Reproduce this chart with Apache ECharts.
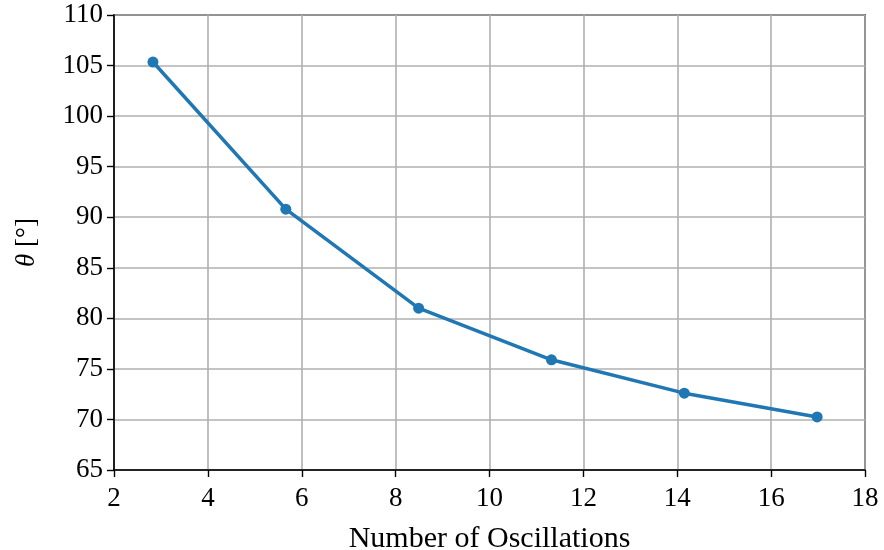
<!DOCTYPE html>
<html>
<head>
<meta charset="utf-8">
<script src="https://cdn.jsdelivr.net/npm/echarts@6/dist/echarts.min.js"></script>
<style>
  html, body { margin: 0; padding: 0; background: #fff; }
  #chart { width: 884px; height: 550px; }
</style>
</head>
<body>
<div id="chart"></div>
<script>
// Oscillation count vs. angle
const oscillations = [2.83, 5.66, 8.49, 11.32, 14.15, 16.98];
const thetaDeg = [105.35, 90.8, 81.0, 75.9, 72.6, 70.25];

const xTicks = { min: 2, max: 18, interval: 2 };
const yTicks = { min: 65, max: 110, interval: 5 };

const serif = '"Liberation Serif", "DejaVu Serif", serif';

const chart = echarts.init(document.getElementById('chart'), null, { renderer: 'canvas' });

chart.setOption({
  animation: false,
  backgroundColor: '#ffffff',
  grid: {
    left: 114, right: 19, top: 15, bottom: 80,
    outerBoundsMode: 'none',
    containLabel: false,
    show: true, borderColor: '#000', borderWidth: 1.6, backgroundColor: 'transparent'
  },
  xAxis: {
    type: 'value',
    min: xTicks.min, max: xTicks.max, interval: xTicks.interval,
    name: 'Number of Oscillations',
    nameLocation: 'middle',
    nameGap: 54,
    nameTextStyle: { fontFamily: serif, fontSize: 30, color: '#000' },
    axisLine: { show: true, lineStyle: { color: '#000', width: 1.6 } },
    axisTick: { show: true, inside: false, length: 7, lineStyle: { color: '#000', width: 1.4 } },
    axisLabel: { fontFamily: serif, fontSize: 27, color: '#000', margin: 15 },
    splitLine: { show: true, lineStyle: { color: '#b0b0b0', width: 1.6 } }
  },
  yAxis: {
    type: 'value',
    min: yTicks.min, max: yTicks.max, interval: yTicks.interval,
    name: '{it|θ} [°]',
    nameLocation: 'middle',
    nameGap: 74,
    nameRotate: 90,
    nameTextStyle: {
      fontFamily: serif, fontSize: 27, color: '#000',
      rich: { it: { fontFamily: serif, fontSize: 27, fontStyle: 'italic', color: '#000' } }
    },
    axisLine: { show: true, lineStyle: { color: '#000', width: 1.6 } },
    axisTick: { show: true, inside: false, length: 7, lineStyle: { color: '#000', width: 1.4 } },
    axisLabel: { fontFamily: serif, fontSize: 27, color: '#000', margin: 11 },
    splitLine: { show: true, lineStyle: { color: '#b0b0b0', width: 1.6 } }
  },
  series: [{
    type: 'line',
    data: oscillations.map((x, i) => [x, thetaDeg[i]]),
    symbol: 'circle',
    symbolSize: 11,
    showSymbol: true,
    itemStyle: { color: '#1f77b4' },
    lineStyle: { color: '#1f77b4', width: 3.5 }
  }]
});
</script>
</body>
</html>
